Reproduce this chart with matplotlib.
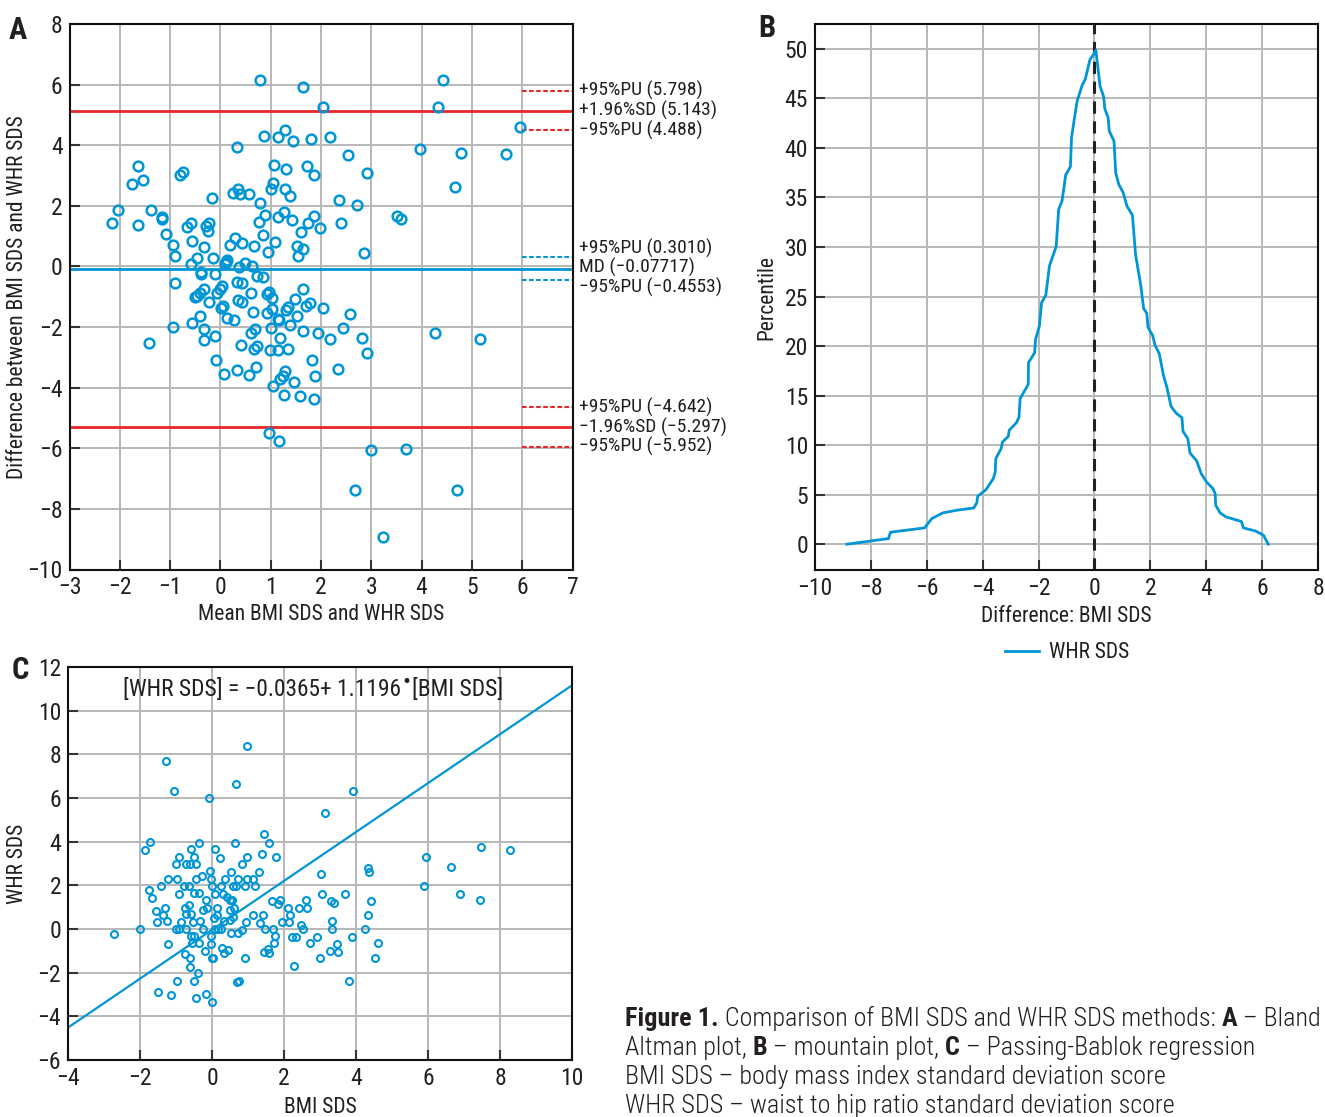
import matplotlib
matplotlib.use("Agg")
import matplotlib.pyplot as plt
import matplotlib.transforms as mtransforms
from matplotlib.text import Annotation
import numpy as np

# ---------------- data ----------------
# Panel A: Bland-Altman (mean, difference)
ba_mean = [0.78, 1.65, 2.04, 4.43, 4.32, 5.96, 0.86, 1.15, 1.29, 1.45, 1.81, 2.17,
           0.33, 3.96, 4.79, 5.68, 2.53, -1.63, -1.75, -1.53, -0.80, -0.75,
           1.06, 1.31, 1.72, 1.87, 2.91, 4.66, 1.04, 1.00, 1.29, 1.39,
           0.34, 0.25, 0.39, 0.57, -0.17, 0.78, 2.36, 2.72,
           -2.03, -2.16, -1.63, -1.37, -1.16, -1.16, -1.09, -0.95, -0.90,
           -0.66, -0.59, -0.28, -0.23, -0.24, -0.57, -0.32, -0.47, -0.59, -0.15,
           0.10, 0.11, 0.14, 0.30, 0.20, 0.43, 0.48, 0.62, 0.36,
           0.66, 0.84, 0.94, 1.09, 0.77, 0.89, 1.15, 1.27, 1.43, 1.60, 1.74, 1.87, 1.99,
           1.53, 1.65, 1.54, 2.40, 2.86, 3.52, 3.60,
           -0.38, -0.39, -0.10, 0.72, 0.85,
           -0.90, -0.50, -0.46, -0.40, -0.33, -0.07, -0.01, 0.04,
           0.33, 0.43, 0.61, 0.93, 0.96, 1.03, 1.49, 1.65,
           -0.22, 0.01, 0.05, 0.34, 0.43, 0.64, 0.92, 1.02,
           1.30, 1.35, 1.53, 1.71, 1.78, 2.04, 2.58,
           -0.40, 0.13, 0.28, 1.14, 1.16, 1.38,
           -0.95, -0.56, -0.32, -0.32, -0.11, -1.41,
           0.60, 0.68, 1.01, 1.18, 1.64, 1.95, 2.17, 2.44, 2.82, 2.92, 4.26, 5.17,
           0.40, 0.66, 0.72, 0.98, 1.14, 1.35,
           -0.09, 1.82, 2.34, 0.07, 0.33, 0.57, 0.71,
           1.29, 1.24, 1.18, 1.47, 1.89, 1.04, 1.27, 1.59, 1.87,
           0.96, 1.17, 2.99, 3.69, 2.67, 4.70, 3.23]
ba_diff = [6.16, 5.91, 5.27, 6.15, 5.25, 4.60, 4.30, 4.26, 4.50, 4.15, 4.22, 4.27,
           3.95, 3.86, 3.73, 3.71, 3.69, 3.32, 2.71, 2.84, 3.03, 3.10,
           3.36, 3.21, 3.33, 3.01, 3.09, 2.62, 2.74, 2.55, 2.54, 2.31,
           2.57, 2.43, 2.38, 2.40, 2.25, 2.09, 2.20, 2.04,
           1.86, 1.42, 1.36, 1.87, 1.63, 1.58, 1.07, 0.72, 0.36,
           1.30, 1.43, 1.32, 1.43, 1.17, 0.83, 0.65, 0.27, 0.07, 0.27,
           0.07, 0.14, 0.21, 0.93, 0.70, 0.79, 0.11, 0.00, -0.01,
           0.69, 1.05, 0.49, 0.82, 1.48, 1.69, 1.63, 1.81, 1.52, 1.15, 1.42, 1.67, 1.28,
           0.68, 0.56, 0.36, 1.42, 0.45, 1.68, 1.56,
           -0.18, -0.24, -0.25, -0.31, -0.36,
           -0.56, -1.00, -0.98, -0.87, -0.76, -0.87, -0.74, -0.63,
           -0.52, -0.56, -0.87, -0.92, -0.85, -1.03, -1.06, -0.76,
           -1.18, -1.38, -1.29, -1.11, -1.17, -1.50, -1.55, -1.39,
           -1.44, -1.33, -1.64, -1.31, -1.20, -1.38, -1.57,
           -1.64, -1.71, -1.78, -1.72, -1.77, -1.94,
           -2.00, -1.88, -2.08, -2.42, -2.28, -2.52,
           -2.18, -2.05, -2.04, -2.37, -2.12, -2.21, -2.41, -2.04, -2.37, -2.87, -2.21, -2.41,
           -2.60, -2.72, -2.63, -2.75, -2.76, -2.71,
           -3.10, -3.08, -3.38, -3.54, -3.42, -3.59, -3.33,
           -3.44, -3.60, -3.70, -3.80, -3.61, -3.95, -4.25, -4.26, -4.36,
           -5.50, -5.75, -6.07, -6.04, -7.37, -7.38, -8.94]

md_value = -0.07717
loa_upper = 5.143
loa_lower = -5.297
md_ci = [0.3010, -0.4553]
upper_ci = [5.798, 4.488]
lower_ci = [-4.642, -5.952]
ref_labels = ["+95%PU (5.798)", "+1.96%SD (5.143)", "\u221295%PU (4.488)",
              "+95%PU (0.3010)", "MD (\u22120.07717)", "\u221295%PU (\u22120.4553)",
              "+95%PU (\u22124.642)", "\u22121.96%SD (\u22125.297)", "\u221295%PU (\u22125.952)"]
ref_values = [5.798, 5.143, 4.488, 0.3010, -0.07717, -0.4553, -4.642, -5.297, -5.952]

# Panel B: mountain plot (difference, percentile)
mt_x = [-8.86, -7.37, -7.30, -6.08, -5.82, -5.43, -4.93, -4.32, -4.21, -4.18, -3.88, -3.62,
        -3.55, -3.53, -3.34, -3.29, -3.08, -3.05, -2.79, -2.70, -2.66, -2.37, -2.36, -2.14,
        -2.11, -1.97, -1.89, -1.74, -1.61, -1.37, -1.28, -1.16, -1.08, -1.03, -0.86, -0.82,
        -0.74, -0.62, -0.43, -0.33, -0.16, -0.03, 0.05,
        0.20, 0.33, 0.37, 0.49, 0.53, 0.70, 0.76, 0.87, 1.03, 1.16, 1.36, 1.47, 1.66, 1.76,
        1.87, 1.92, 2.08, 2.17, 2.32, 2.47, 2.59, 2.74, 2.92, 3.13, 3.17, 3.34, 3.42, 3.66,
        3.82, 4.01, 4.24, 4.32, 4.34, 4.50, 4.71, 5.26, 5.33, 5.76, 6.05, 6.22]
mt_y = [0.0, 0.57, 1.21, 1.65, 2.59, 3.16, 3.43, 3.66, 4.17, 4.84, 5.51, 6.62,
        7.29, 8.64, 9.65, 10.32, 10.89, 11.50, 12.27, 12.84, 14.69, 16.13, 18.32, 19.33,
        20.64, 22.04, 24.40, 25.13, 28.09, 30.04, 33.80, 34.64, 36.22, 37.26, 38.10, 41.03,
        42.54, 44.72, 46.40, 46.91, 48.92, 49.43, 49.87,
        46.24, 45.16, 43.95, 43.04, 41.70, 40.69, 37.50, 36.32, 35.48, 34.14, 33.20, 29.27, 26.08, 23.79,
        23.32, 21.87, 21.08, 20.07, 19.23, 17.04, 15.87, 13.92, 13.24, 12.77, 11.39, 10.66, 9.21, 8.40,
        7.13, 6.29, 5.61, 5.11, 3.93, 3.16, 2.76, 2.29, 1.65, 1.34, 0.91, 0.0]

# Panel C: Passing-Bablok (BMI SDS, WHR SDS)
pb_bmi = [0.96, -1.28, -1.06, 0.66, -0.07, 3.93, 3.14, -1.72, -1.85, -0.36, 0.64, 1.44, 1.59,
          0.07, -0.58, -0.91, -0.50, 0.23, 0.96, 1.40, 1.77, 5.94, 7.47, 8.29,
          -1.01, -0.72, -0.62, -0.44, 0.82, 4.33, 4.36, 6.63, 3.04, -0.05,
          -1.23, -0.97, -0.45, -0.28, -0.03, 0.37, 0.54, 0.71, 0.98, 1.13, 1.31,
          -1.41, -0.78, -0.64, 0.00, 0.26, 0.57, 0.68, 0.93, 1.20, 5.89,
          -1.75, -1.68, -0.93, -0.51, -0.35, 0.09, 0.30, -0.16, 0.42, 0.49, 0.55,
          3.06, 3.70, 6.90, 7.45, 1.67, 1.88, 1.82, 2.61, 3.31, 3.40, 4.42,
          -1.56, -1.30, -1.37, -0.76, -0.64, -0.72, -0.59, -0.26, -0.14, 0.14, 0.14, 0.05,
          0.51, 0.61, 0.59, 1.13, 1.43, 2.11, 2.18, 2.41, 2.63, 4.33,
          -1.54, -1.24, -0.85, -0.54, -0.34, 0.33, 0.50, 0.95, 1.32, 1.95, 2.15, 2.48, 3.34,
          -2.71, -1.99, -1.01, -0.92, -0.72, -0.25, 0.07, 0.18, 0.26, 0.82, 0.72, 0.52,
          1.47, 1.70, 2.54, 3.34, 4.26,
          -0.57, -0.51, -0.03, 1.76, 2.23, 2.33, 2.92, 3.90,
          -1.23, -0.56, -0.36, -0.02, 1.73, 2.73, 3.46, 4.61,
          -0.20, 0.29, 0.32, 0.44, 1.44, 1.55, 1.58, 3.28, 3.50,
          -0.76, -0.62, -0.01, 0.04, 0.92, 3.00, 4.53,
          -0.62, -0.39, 2.27, -0.97, -0.51, 0.69, 0.76, 3.81,
          -1.50, -1.15, -0.45, -0.17, 0.01]
pb_whr = [8.37, 7.69, 6.30, 6.66, 6.02, 6.34, 5.30, 4.00, 3.62, 3.95, 3.95, 4.34, 3.95,
          3.65, 3.66, 3.31, 3.31, 3.27, 3.28, 3.44, 3.30, 3.30, 3.77, 3.62,
          2.97, 2.97, 2.97, 2.97, 2.97, 2.81, 2.60, 2.84, 2.50, 2.65,
          2.31, 2.31, 2.31, 2.42, 2.31, 2.31, 2.62, 2.31, 2.31, 2.31, 2.62,
          1.98, 1.98, 1.98, 1.98, 1.98, 1.98, 1.98, 1.98, 1.98, 1.98,
          1.80, 1.42, 1.62, 1.63, 1.65, 1.62, 1.62, 1.32, 1.48, 1.33, 1.32,
          1.60, 1.62, 1.62, 1.32, 1.30, 1.32, 1.15, 1.33, 1.26, 1.18, 1.30,
          0.83, 0.95, 0.65, 0.95, 1.10, 0.68, 0.68, 0.85, 0.95, 0.95, 0.65, 0.50,
          0.85, 0.98, 0.57, 0.65, 0.65, 0.95, 0.65, 0.95, 0.95, 0.65,
          0.32, 0.38, 0.32, 0.32, 0.35, 0.35, 0.39, 0.30, 0.27, 0.30, 0.30, 0.20, 0.35,
          -0.23, 0.00, 0.00, 0.00, 0.00, 0.00, 0.00, 0.00, 0.00, -0.03, -0.18, -0.18,
          0.00, 0.00, 0.00, 0.00, 0.02,
          -0.33, -0.33, -0.33, -0.33, -0.36, -0.36, -0.36, -0.36,
          -0.70, -0.64, -0.65, -0.70, -0.65, -0.64, -0.67, -0.62,
          -1.01, -0.86, -1.09, -0.97, -1.06, -0.91, -1.09, -1.01, -1.04,
          -1.15, -1.33, -1.35, -1.35, -1.35, -1.32, -1.32,
          -1.72, -2.00, -1.69, -2.36, -2.36, -2.42, -2.38, -2.36,
          -2.87, -3.03, -3.16, -2.98, -3.34]
pb_intercept = -0.0365
pb_slope = 1.1196

# ---------------- style ----------------
FONT = ["Roboto Condensed", "IBM Plex Sans Condensed", "DejaVu Sans"]
plt.rcParams["font.family"] = FONT
plt.rcParams["axes.unicode_minus"] = True

BLUE = "#0096d6"
RED = "#e8262a"
GRID = "#b8b8b8"
TXT = "#231f20"
TICK_FS = 17
LAB_FS = 15.5

W, H = 1325, 1117
fig = plt.figure(figsize=(W / 100, H / 100), dpi=100)


def px_axes(l, t, r, b):
    return fig.add_axes([l / W, 1 - b / H, (r - l) / W, (b - t) / H])


def style(ax):
    ax.grid(True, color=GRID, lw=1.4)
    ax.set_axisbelow(True)
    for s in ax.spines.values():
        s.set_color("#111111")
        s.set_linewidth(1.5)
    ax.tick_params(direction="in", length=7, width=1.5, color="#333333",
                   labelsize=TICK_FS, labelcolor=TXT, pad=5, top=False, right=False)


# ---------------- panel A ----------------
axA = px_axes(69.5, 24, 572.5, 569.5)
style(axA)
axA.set_xlim(-3, 7)
axA.set_ylim(-10, 8)
axA.set_xticks(np.arange(-3, 8, 1))
axA.set_yticks(np.arange(-10, 9, 2))
axA.axhline(loa_upper, color=RED, lw=2, zorder=2)
axA.axhline(loa_lower, color=RED, lw=2, zorder=2)
axA.axhline(md_value, color=BLUE, lw=2, zorder=2)
for v in upper_ci + lower_ci:
    axA.plot([6, 7], [v, v], color=RED, lw=1.5, ls=(0, (2.2, 1.2)), zorder=2)
for v in md_ci:
    axA.plot([6, 7], [v, v], color=BLUE, lw=1.5, ls=(0, (2.2, 1.2)), zorder=2)
axA.plot(ba_mean, ba_diff, ls="none", marker="o", ms=7, mfc="none", mec=BLUE, mew=1.8, zorder=3)
trA = mtransforms.blended_transform_factory(axA.transAxes, axA.transData)
label_shift = [0, 0, 0, 6.5, 1, -5, 0, 0, 0]   # points, to keep the middle group readable
for lab, v, dy in zip(ref_labels, ref_values, label_shift):
    axA.annotate(lab, xy=(1.0, v), xycoords=trA, xytext=(4.5, dy), textcoords="offset points",
                 va="center", ha="left", fontsize=14, color=TXT, annotation_clip=False)
axA.set_xlabel("Mean BMI SDS and WHR SDS", fontsize=LAB_FS, color=TXT)
axA.set_ylabel("Difference between BMI SDS and WHR SDS", fontsize=LAB_FS, color=TXT)
axA.xaxis.set_label_coords(0.5, -0.064)
axA.yaxis.set_label_coords(-0.083, 0.5)
fig.text(18 / W, 1 - 30 / H, "A", fontsize=22, fontweight="bold", color=TXT, ha="center", va="center")

# ---------------- panel B ----------------
axB = px_axes(815, 24, 1318, 570)
style(axB)
axB.set_xlim(-10, 8)
axB.set_ylim(-2.6, 52.5)
axB.set_xticks(np.arange(-10, 9, 2))
axB.set_yticks(np.arange(0, 51, 5))
axB.axvline(0, color="#222222", lw=2.2, ls=(0, (4, 2.5)), zorder=2)
lineB, = axB.plot(mt_x, mt_y, color=BLUE, lw=2, zorder=3, label="WHR SDS")
axB.set_xlabel("Difference: BMI SDS", fontsize=LAB_FS, color=TXT)
axB.set_ylabel("Percentile", fontsize=LAB_FS, color=TXT)
axB.xaxis.set_label_coords(0.5, -0.066)
axB.yaxis.set_label_coords(-0.075, 0.5)
fig.legend(handles=[lineB], loc="center", bbox_to_anchor=(1067 / W, 1 - 653 / H),
           frameon=False, fontsize=LAB_FS, handlelength=1.6, handletextpad=0.45, labelcolor=TXT)
fig.text(767 / W, 1 - 28 / H, "B", fontsize=22, fontweight="bold", color=TXT, ha="center", va="center")

# ---------------- panel C ----------------
axC = px_axes(68, 667, 572, 1060)
style(axC)
axC.set_xlim(-4, 10)
axC.set_ylim(-6, 12)
axC.set_xticks(np.arange(-4, 11, 2))
axC.set_yticks(np.arange(-6, 13, 2))
xs = np.array(axC.get_xlim())
axC.plot(xs, pb_intercept + pb_slope * xs, color=BLUE, lw=1.6, zorder=2)
axC.plot(pb_bmi, pb_whr, ls="none", marker="o", ms=5, mfc="none", mec=BLUE, mew=1.5, zorder=3)
EQ_FS = 16.8
eq1 = axC.text(0.2, 0.944, "[WHR SDS] = \u22120.0365+ 1.1196", transform=axC.transAxes,
               ha="left", va="center", fontsize=EQ_FS, color=TXT)
eq2 = axC.annotate("\u2022", xy=(1, 0.5), xycoords=eq1, xytext=(0.8, 4.5), textcoords="offset points",
                   ha="left", va="center", fontsize=17, color=TXT)
eq3 = axC.annotate("[BMI SDS]", xy=(1, 0.5), xycoords=eq2, xytext=(1.2, -4.5), textcoords="offset points",
                   ha="left", va="center", fontsize=EQ_FS, color=TXT)
axC.set_xlabel("BMI SDS", fontsize=LAB_FS, color=TXT)
axC.set_ylabel("WHR SDS", fontsize=LAB_FS, color=TXT)
axC.xaxis.set_label_coords(0.5, -0.093)
axC.yaxis.set_label_coords(-0.079, 0.5)
fig.text(20 / W, 1 - 670 / H, "C", fontsize=22, fontweight="bold", color=TXT, ha="center", va="center")

# ---------------- caption ----------------
cap_lines = [
    [("Figure 1.", True), (" Comparison of BMI SDS and WHR SDS methods: ", False), ("A", True), (" \u2013 Bland", False)],
    [("Altman plot, ", False), ("B", True), (" \u2013 mountain plot, ", False), ("C", True), (" \u2013 Passing-Bablok regression", False)],
    [("BMI SDS \u2013 body mass index standard deviation score", False)],
    [("WHR SDS \u2013 waist to hip ratio standard deviation score", False)],
]
cap_y = [1019, 1048, 1077, 1106]
CAP_FS = 18.8
for parts, yy in zip(cap_lines, cap_y):
    prev = None
    for s, bold in parts:
        kw = dict(fontsize=CAP_FS, color=TXT, fontweight="bold" if bold else "light")
        if prev is None:
            prev = fig.text(625 / W, 1 - yy / H, s, ha="left", va="center", **kw)
        else:
            prev = fig.add_artist(Annotation(s, xy=(1, 0), xycoords=prev, ha="left", va="bottom", **kw))

# centre the equation pieces on the reference position
fig.canvas.draw()
r = fig.canvas.get_renderer()
bbs = [t.get_window_extent(r) for t in (eq1, eq2, eq3)]
x0 = min(b.x0 for b in bbs)
x1 = max(b.x1 for b in bbs)
target = axC.transAxes.transform((0.486, 0))[0]
shift = target - (x0 + x1) / 2
ax_w = axC.get_window_extent(r).width
eq1.set_x(0.2 + shift / ax_w)

fig.savefig("out.png", dpi=100)
